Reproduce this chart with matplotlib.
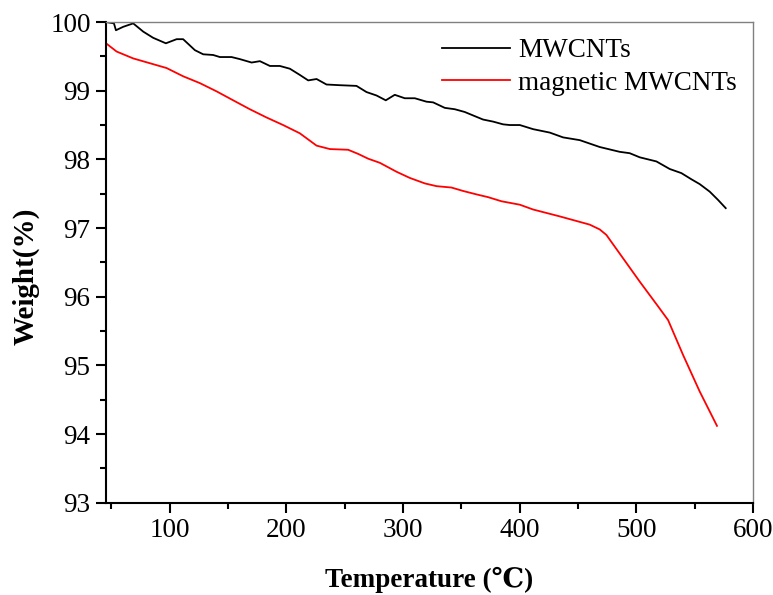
import matplotlib
matplotlib.use("Agg")
import matplotlib.pyplot as plt
from matplotlib.ticker import MultipleLocator

plt.rcParams['font.family'] = ['Liberation Serif', 'DejaVu Serif']

# MWCNTs TGA curve
temp_mwcnt = [45.5, 52.3, 54, 60.2, 68.8, 77.4, 85.9, 96.8, 106, 111.6, 121.7, 128.8,
              137.3, 143.1, 153.1, 160.2, 170.3, 177.4, 186, 194.5, 203.1, 211.6,
              218.8, 226, 234.5, 245.9, 260.2, 268.8, 277.4, 285.3, 293, 301.6,
              310.2, 320.2, 325.9, 335.9, 344.5, 353, 360.1, 368.7, 377.3, 385.9,
              391.6, 400.2, 411.6, 425.9, 437.3, 451.6, 468.7, 485.8, 494.4, 503,
              517.3, 528.7, 538.7, 547.3, 554.4, 563, 570.1, 576.7]
weight_mwcnt = [100.0, 99.98, 99.88, 99.93, 99.98, 99.86, 99.77, 99.69, 99.75, 99.75,
                99.59, 99.53, 99.52, 99.49, 99.49, 99.46, 99.41, 99.43, 99.36, 99.36,
                99.32, 99.23, 99.15, 99.17, 99.09, 99.08, 99.07, 98.98, 98.93, 98.86,
                98.94, 98.89, 98.89, 98.84, 98.83, 98.75, 98.73, 98.69, 98.64, 98.58,
                98.55, 98.51, 98.50, 98.50, 98.44, 98.39, 98.32, 98.28, 98.18, 98.11,
                98.09, 98.03, 97.97, 97.86, 97.80, 97.71, 97.64, 97.53, 97.41, 97.29]

# magnetic MWCNTs TGA curve
temp_mag = [45.5, 54.6, 68.8, 83.1, 97.4, 111.6, 126, 140.3, 154.5, 168.8, 183.1,
            197.3, 211.6, 226, 237.4, 253, 261.6, 270.2, 280.2, 294.5, 305.9, 318.8,
            328.8, 341.6, 351.6, 363.1, 373, 384.5, 400.2, 411.6, 434.4, 460.1,
            468.7, 474.4, 488.7, 503, 518.7, 527.3, 540.2, 554.4, 569.2]
weight_mag = [99.69, 99.57, 99.47, 99.40, 99.33, 99.21, 99.11, 98.99, 98.86, 98.73,
              98.61, 98.50, 98.38, 98.20, 98.15, 98.14, 98.08, 98.01, 97.95, 97.82,
              97.73, 97.65, 97.61, 97.59, 97.54, 97.49, 97.45, 97.39, 97.34, 97.27,
              97.17, 97.05, 96.98, 96.90, 96.56, 96.22, 95.86, 95.66, 95.15, 94.62,
              94.12]

fig = plt.figure(figsize=(7.73, 5.95), dpi=100)
ax = fig.add_axes([0.137, 0.155, 0.837, 0.808])

ax.plot(temp_mwcnt, weight_mwcnt, color='black', lw=1.3, label='MWCNTs')
ax.plot(temp_mag, weight_mag, color='red', lw=1.3, label='magnetic MWCNTs')

ax.set_xlim(45.4, 600)
ax.set_ylim(93, 100)
ax.xaxis.set_major_locator(MultipleLocator(100))
ax.xaxis.set_minor_locator(MultipleLocator(50))
ax.yaxis.set_major_locator(MultipleLocator(1))
ax.yaxis.set_minor_locator(MultipleLocator(0.5))

for side in ['top', 'right']:
    ax.spines[side].set_color('#808080')
    ax.spines[side].set_linewidth(1.0)
for side in ['left', 'bottom']:
    ax.spines[side].set_linewidth(1.5)

ax.tick_params(which='both', direction='out', width=1.5, labelsize=19.5,
               top=False, right=False, pad=4)
ax.tick_params(which='major', length=7)
ax.tick_params(which='minor', length=4)

ax.set_xlabel('Temperature (℃)', fontsize=19.5, fontweight='bold', labelpad=17)
ax.set_ylabel('Weight(%)', fontsize=21, fontweight='bold')
ax.yaxis.set_label_coords(-0.102, 0.472)

ax.legend(loc='upper right', frameon=False, fontsize=19.5, handlelength=2.5,
          handletextpad=0.3, labelspacing=0.28, borderaxespad=0, borderpad=0.6)

fig.savefig('out.png', dpi=100)
